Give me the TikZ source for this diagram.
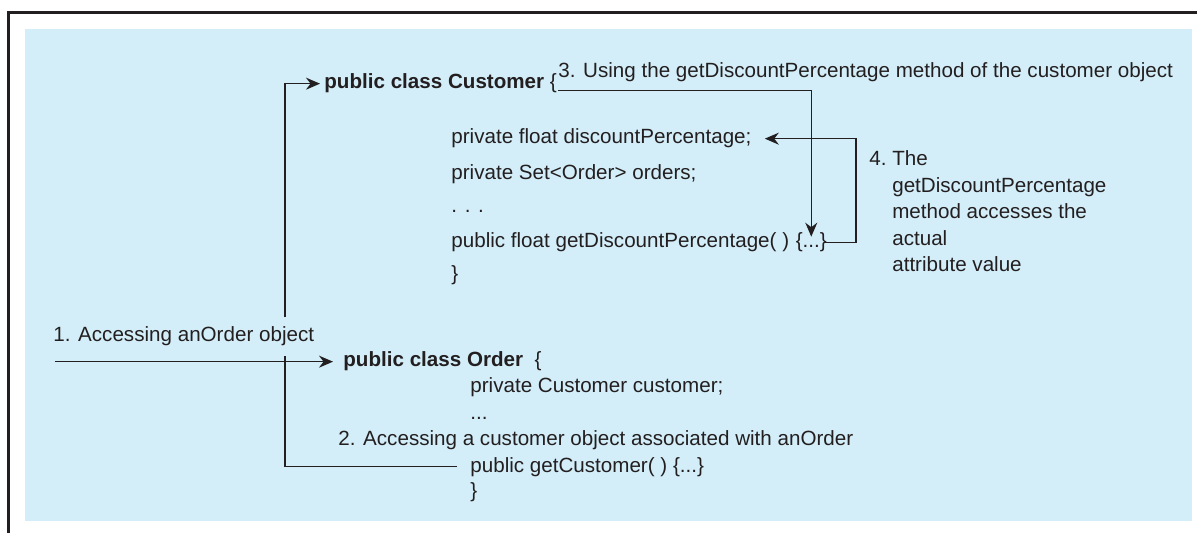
\documentclass[tikz,border=0pt]{standalone}
\usepackage{fontspec}
\setmainfont{Liberation Sans}
\usetikzlibrary{arrows.meta,positioning,calc}
\definecolor{sky}{HTML}{D3EEF9}
\definecolor{ink}{HTML}{231F20}
\newcommand{\ellip}{...}

\begin{document}
\begin{tikzpicture}[x=0.5pt, y=-0.5pt,
    code/.style={anchor=base west, inner sep=0pt, text=ink, font=\fontsize{10.3}{13.25}\selectfont},
    wire/.style={draw=ink, line width=0.7pt},
    arr/.style={wire, -{Stealth[length=7pt,width=6pt]}}]
  \useasboundingbox (0,0) rectangle (1197,533);
  % frame and panel
  \draw[ink, line width=1.3pt] (8.7,533) -- (8.7,12.8) -- (1197,12.8);
  \fill[sky] (25,29) rectangle (1192,521);

  % class Customer
  \node[code] (custhead) at (324,89) {\textbf{public class Customer} \{};
  \foreach \nm/\y/\txt in {dpfield/144/private float discountPercentage;,
                           setfield/180/private Set<Order> orders;,
                           cdots/213/. . .,
                           gdp/248/public float getDiscountPercentage( ),
                           cclose/281/\}}
      \node[code] (\nm) at (451,\y) {\txt};
  \node[code] (gdpbody) at ([xshift=2.9pt]gdp.base east) {\{\ellip\}};

  % class Order
  \node[code] (ordhead) at (343,367) {\textbf{public class Order}\ \ \{};
  \foreach \nm/\y/\txt in {custfield/393/private Customer customer;,
                           odots/420/\ellip,
                           getcust/472/public getCustomer( ) \{\ellip\},
                           oclose/497/\}}
      \node[code] (\nm) at (470,\y) {\txt};

  % labels
  \node[code] (lab2) at (338,445) {2. Accessing a customer object associated with anOrder};
  \node[code, inner ysep=3.8pt] (lab3) at (558,78)
      {3. Using the getDiscountPercentage method of the customer object};
  \node[code] (lab4) at (869,166) {\begin{tabular}[t]{@{}l@{\ }l@{}}
      4.& The\\ & getDiscountPercentage\\ & method accesses the\\ & actual\\ & attribute value
    \end{tabular}};

  % connectors
  \coordinate (start1) at (55,0);
  \coordinate (spine) at (285,0);
  \coordinate (rtn) at (856,0);
  \draw[arr, shorten <=6.5pt, shorten >=2pt] (getcust.west) -| (spine |- custhead.west) -- (custhead.west);
  \draw[arr, shorten >=5pt] (start1 |- ordhead.west) -- (ordhead.west);
  \draw[arr, shorten >=-2pt] (lab3.south west) -| (gdpbody.north);
  \draw[arr, shorten <=-1.5pt, shorten >=6.5pt] (gdpbody.east) -| (rtn |- dpfield.east) -- (dpfield.east);
  \node[code, fill=sky, inner ysep=5pt] (lab1) at (53,342) {1. Accessing anOrder object};
\end{tikzpicture}
\end{document}
